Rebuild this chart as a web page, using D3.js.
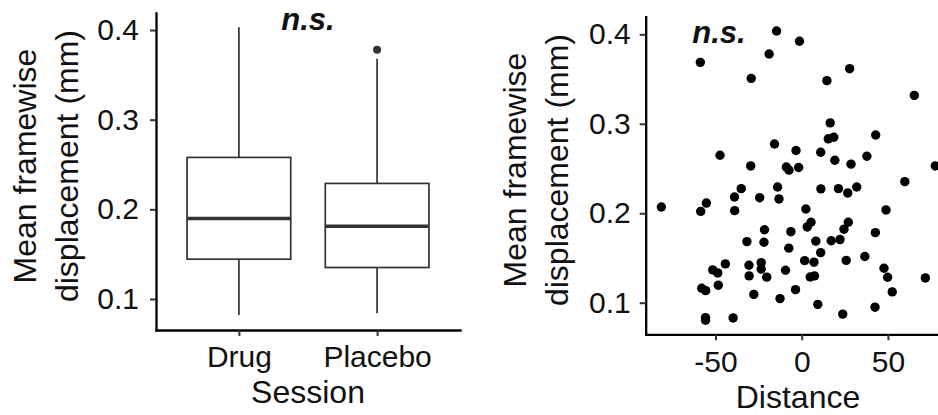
<!DOCTYPE html>
<html lang="en">

<head>
    <meta charset="UTF-8">
    <title>Framewise displacement</title>
    <script src="https://d3js.org/d3.v7.min.js"></script>
    <style>
        body {
            margin: 0;
            background: #fff;
        }

        svg {
            display: block;
            font-family: "Liberation Sans", Arial, sans-serif;
        }

        .axis path,
        .axis line {
            stroke: #000;
        }

        .axis path {
            stroke-width: 2.3;
            stroke-linecap: square;
        }

        .axis line {
            stroke: #333;
            stroke-width: 2;
        }

        .axis text {
            font-size: 30px;
            fill: #111;
            font-family: "Liberation Sans", Arial, sans-serif;
        }

        .title {
            font-size: 32px;
            fill: #111;
            text-anchor: middle;
        }

        .ns {
            font-size: 31px;
            font-weight: bold;
            font-style: italic;
            text-anchor: middle;
            fill: #111;
        }
    </style>
</head>

<body>
    <svg width="938" height="415"></svg>

    <script>
        // box plot summary (Session)
        const sessions = ["Drug", "Placebo"];
        const whiskerLow = [0.082, 0.084];
        const q1 = [0.1444, 0.1351];
        const medians = [0.1898, 0.1812];
        const q3 = [0.2579, 0.2289];
        const whiskerHigh = [0.403, 0.368];
        const outliers = [[], [0.378]];

        // scatter: distance vs displacement
        const distance = [
            -58.8, -14.6, -1.3, -18.9, -29.3, 27.8, 14.6, 65.3, 16.5, 15.4,
            18.6, 42.9, -15.8, -3.3, 11.0, -47.4, 37.8, -29.6, -8.9, -7.4,
            -1.8, 19.2, 28.6, 77.5, 59.8, -14.0, -35.1, -39.0, -24.4, -13.2,
            11.1, 21.3, 26.7, 31.9, -55.3, -81.4, -58.6, -38.9, 2.4, 48.9,
            5.4, 3.2, 27.0, 24.5, -21.6, -6.3, 42.7, -31.8, -21.9, 8.2,
            17.1, 22.2, -7.5, 11.0, 36.6, -44.3, -30.6, -23.5, -23.5, 1.7,
            7.1, 25.8, -51.6, -48.7, -9.4, 47.7, 49.8, -30.5, -20.3, 4.9,
            7.4, 71.7, -58.0, -55.7, -48.4, -3.6, 52.5, -27.8, -12.6, 9.3,
            42.5, 23.8, -55.8, -55.8, -39.8
        ];
        const displacement = [
            0.3687, 0.4037, 0.3923, 0.378, 0.3508, 0.3616, 0.3482, 0.3318, 0.301, 0.2832,
            0.2849, 0.2875, 0.2774, 0.2702, 0.2682, 0.2648, 0.2637, 0.2529, 0.2517, 0.2482,
            0.2511, 0.2592, 0.2549, 0.2529, 0.2353, 0.2293, 0.2275, 0.2182, 0.2174, 0.216,
            0.2273, 0.2275, 0.2227, 0.2294, 0.2114, 0.207, 0.2021, 0.2029, 0.2048, 0.2037,
            0.19, 0.1847, 0.1899, 0.1822, 0.1816, 0.1794, 0.1783, 0.1683, 0.1676, 0.1688,
            0.1693, 0.1706, 0.161, 0.156, 0.1517, 0.1434, 0.1419, 0.1448, 0.1376, 0.147,
            0.1453, 0.1473, 0.1367, 0.1333, 0.1363, 0.1385, 0.1285, 0.13, 0.1286, 0.1287,
            0.13, 0.1277, 0.1162, 0.1135, 0.1196, 0.1146, 0.1121, 0.1093, 0.1046, 0.0982,
            0.095, 0.0873, 0.0833, 0.0804, 0.083
        ];

        const yTicks = [0.1, 0.2, 0.3, 0.4];
        const xTicks = [-50, 0, 50];

        const svg = d3.select("svg");

        // ---------- left panel: box plot ----------
        const xL = d3.scalePoint().domain(sessions).range([156, 460]).padding(0.6);
        const yL = d3.scaleLinear().domain([0.0654, 0.419]).range([330, 13]);
        const boxW = xL.step() * 0.75;

        const left = svg.append("g");

        sessions.forEach((s, i) => {
            const cx = xL(s);
            // whiskers
            left.append("line")
                .attr("x1", cx).attr("x2", cx)
                .attr("y1", yL(q3[i])).attr("y2", yL(whiskerHigh[i]))
                .attr("stroke", "#333").attr("stroke-width", 1.7);
            left.append("line")
                .attr("x1", cx).attr("x2", cx)
                .attr("y1", yL(q1[i])).attr("y2", yL(whiskerLow[i]))
                .attr("stroke", "#333").attr("stroke-width", 1.7);
            // box
            left.append("rect")
                .attr("x", cx - boxW / 2)
                .attr("y", yL(q3[i]))
                .attr("width", boxW)
                .attr("height", yL(q1[i]) - yL(q3[i]))
                .attr("fill", "#fff")
                .attr("stroke", "#333")
                .attr("stroke-width", 1.7);
            // median
            left.append("line")
                .attr("x1", cx - boxW / 2).attr("x2", cx + boxW / 2)
                .attr("y1", yL(medians[i])).attr("y2", yL(medians[i]))
                .attr("stroke", "#333").attr("stroke-width", 3.4);
            // outliers
            outliers[i].forEach(v => {
                left.append("circle")
                    .attr("cx", cx).attr("cy", yL(v)).attr("r", 4)
                    .attr("fill", "#333");
            });
        });

        left.append("g")
            .attr("class", "axis")
            .attr("transform", "translate(156,0)")
            .call(d3.axisLeft(yL).tickValues(yTicks).tickFormat(d3.format(".1f"))
                .tickSize(6).tickSizeOuter(0).tickPadding(11));

        left.append("g")
            .attr("class", "axis")
            .attr("transform", "translate(0,330)")
            .call(d3.axisBottom(xL).tickSize(6).tickSizeOuter(0).tickPadding(10));

        left.append("text")
            .attr("class", "title")
            .attr("x", 308).attr("y", 403)
            .text("Session");

        const yTitleL = left.append("text")
            .attr("class", "title")
            .attr("transform", "translate(0,166) rotate(-90)");
        yTitleL.append("tspan").attr("x", 0).attr("y", 36).text("Mean framewise");
        yTitleL.append("tspan").attr("x", 0).attr("y", 78).text("displacement (mm)");

        left.append("text")
            .attr("class", "ns")
            .attr("x", (xL(sessions[0]) + xL(sessions[1])) / 2)
            .attr("y", yL(0.412))
            .attr("dy", "0.35em")
            .text("n.s.");

        // ---------- right panel: scatter ----------
        const xR = d3.scaleLinear().domain([-90.5, 86]).range([645.7, 950]);
        const yR = d3.scaleLinear().domain([0.0647, 0.4197]).range([334.3, 16.7]);

        const right = svg.append("g");

        right.selectAll("circle")
            .data(distance.map((d, i) => [d, displacement[i]]))
            .join("circle")
            .attr("cx", d => xR(d[0]))
            .attr("cy", d => yR(d[1]))
            .attr("r", 4.7)
            .attr("fill", "#000");

        right.append("g")
            .attr("class", "axis")
            .attr("transform", "translate(645.7,0)")
            .call(d3.axisLeft(yR).tickValues(yTicks).tickFormat(d3.format(".1f"))
                .tickSize(6).tickSizeOuter(0).tickPadding(9));

        // plain hyphen for negatives, like the original figure
        right.append("g")
            .attr("class", "axis")
            .attr("transform", "translate(0,334.3)")
            .call(d3.axisBottom(xR).tickValues(xTicks).tickFormat(d => String(d))
                .tickSize(6).tickSizeOuter(0).tickPadding(10));

        right.append("text")
            .attr("class", "title")
            .attr("x", 798).attr("y", 408)
            .text("Distance");

        const yTitleR = right.append("text")
            .attr("class", "title")
            .attr("transform", "translate(0,170) rotate(-90)");
        yTitleR.append("tspan").attr("x", 0).attr("y", 525.7).text("Mean framewise");
        yTitleR.append("tspan").attr("x", 0).attr("y", 567.7).text("displacement (mm)");

        right.append("text")
            .attr("class", "ns")
            .attr("x", xR(-48))
            .attr("y", yR(0.402))
            .attr("dy", "0.35em")
            .text("n.s.");
    </script>
</body>

</html>
